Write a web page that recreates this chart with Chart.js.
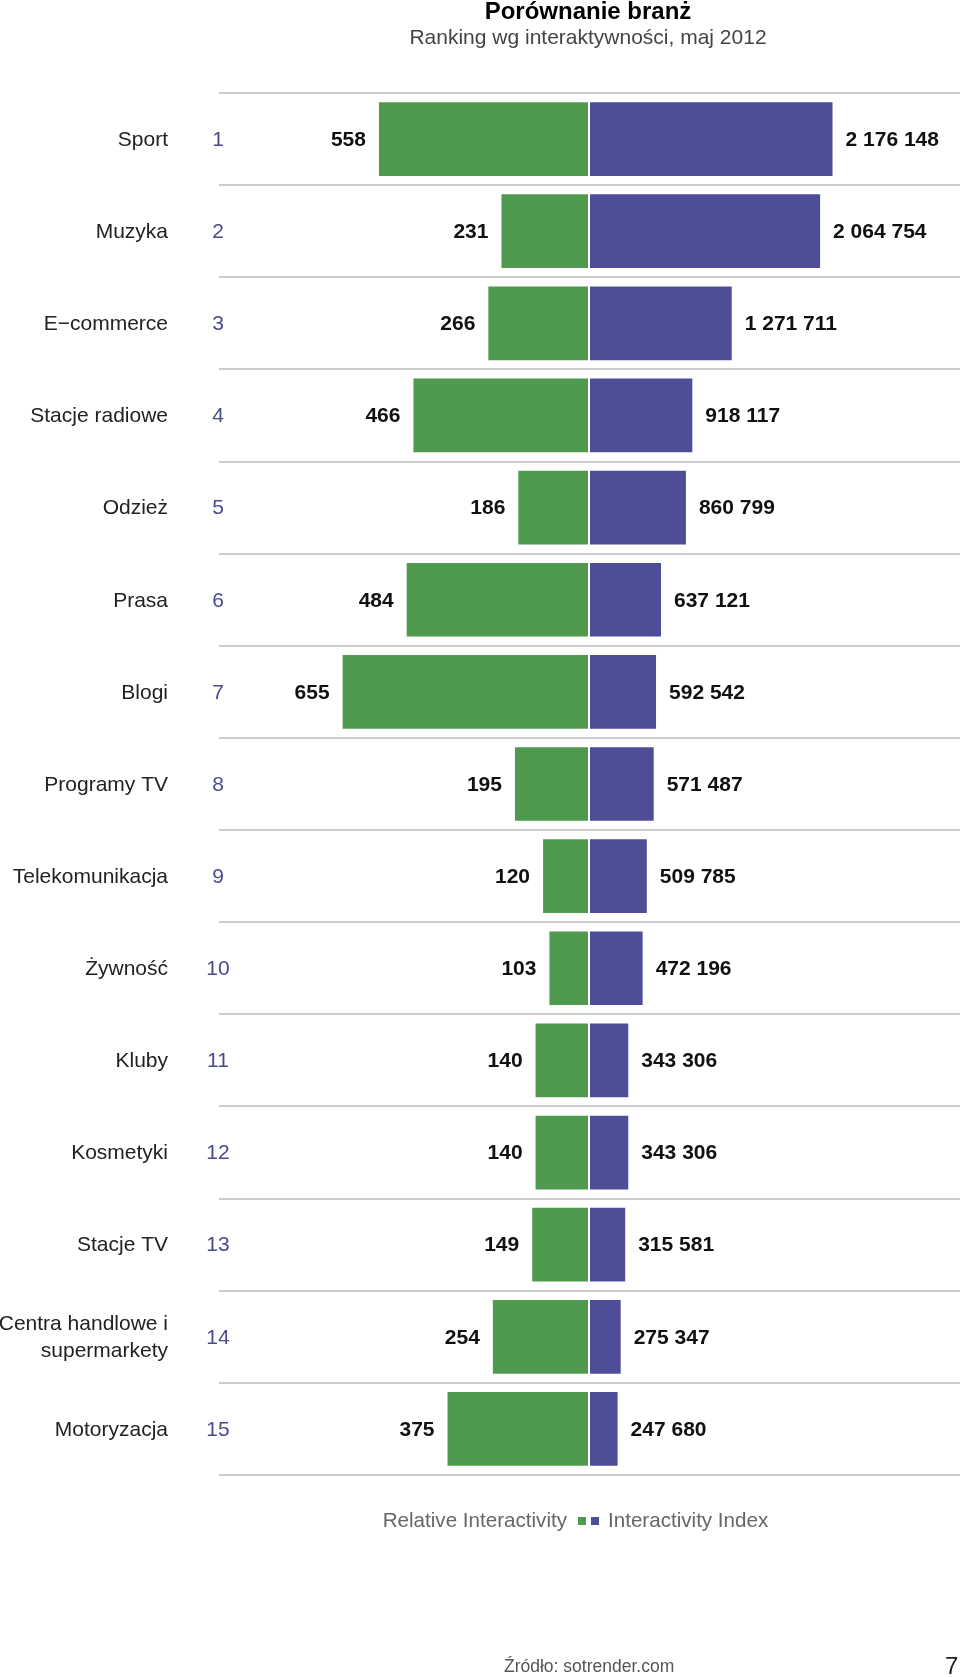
<!DOCTYPE html>
<html>
<head>
<meta charset="utf-8">
<script src="https://cdn.jsdelivr.net/npm/chart.js@4"></script>
<style>
  body { margin: 0; background: #fff; font-family: "Liberation Sans", Arial, sans-serif; }
  #page { position: relative; width: 960px; height: 1677px; overflow: hidden; }
  #chart { position: absolute; left: 0; top: 0; }
  .txt { position: absolute; white-space: nowrap; }
  #title { left: 0; width: 1176px; text-align: center; top: -3px; font-size: 24px; font-weight: bold; color: #000; }
  #subtitle { left: 0; width: 1176px; text-align: center; top: 25px; font-size: 21px; color: #444; }
  .leg { top: 1508px; font-size: 20.6px; color: #666; }
  #leg-left { right: 393px; text-align: right; }
  #leg-right { left: 608px; }
  .sw { position: absolute; top: 1517px; width: 8px; height: 8px; }
  #source { left: 504px; top: 1656px; font-size: 17.5px; color: #555; }
  #page-no { left: 945px; top: 1652px; font-size: 24px; color: #222; }
</style>
</head>
<body>
<div id="page">
  <canvas id="chart" width="960" height="1677"></canvas>
  <div class="txt" id="title">Porównanie branż</div>
  <div class="txt" id="subtitle">Ranking wg interaktywności, maj 2012</div>
  <div class="txt leg" id="leg-left"></div>
  <div class="sw" id="sw-green" style="left:578px"></div>
  <div class="sw" id="sw-blue" style="left:591px"></div>
  <div class="txt leg" id="leg-right"></div>
  <div class="txt" id="source">Źródło: sotrender.com</div>
  <div class="txt" id="page-no">7</div>
</div>
<script>
  // ---------- DATA ----------
  const categories = [
    "Sport", "Muzyka", "E\u2212commerce", "Stacje radiowe", "Odzież", "Prasa", "Blogi",
    "Programy TV", "Telekomunikacja", "Żywność", "Kluby", "Kosmetyki", "Stacje TV",
    ["Centra handlowe i", "supermarkety"], "Motoryzacja"
  ];
  const ranks = ["1", "2", "3", "4", "5", "6", "7", "8", "9", "10", "11", "12", "13", "14", "15"];
  const relativeInteractivity = [558, 231, 266, 466, 186, 484, 655, 195, 120, 103, 140, 140, 149, 254, 375];
  const interactivityIndex = [2176148, 2064754, 1271711, 918117, 860799, 637121, 592542, 571487,
                              509785, 472196, 343306, 343306, 315581, 275347, 247680];
  const seriesNames = ["Relative Interactivity", "Interactivity Index"];
  const GREEN = "#4f9a4e";
  const BLUE = "#4e4e98";
  const FONT = '"Liberation Sans", Arial, sans-serif';

  // legend: text, two swatches, text
  document.getElementById("leg-left").textContent = seriesNames[0];
  document.getElementById("leg-right").textContent = seriesNames[1];
  document.getElementById("sw-green").style.background = GREEN;
  document.getElementById("sw-blue").style.background = BLUE;

  const fmt = v => String(v).replace(/\B(?=(\d{3})+(?!\d))/g, " ");

  // ---------- LABELS PLUGIN ----------
  const valueLabels = {
    id: "valueLabels",
    afterDatasetsDraw(chart) {
      const c = chart.ctx;
      c.save();
      c.font = "bold 21px " + FONT;
      c.fillStyle = "#111";
      c.textBaseline = "middle";
      chart.data.datasets.forEach((ds, di) => {
        chart.getDatasetMeta(di).data.forEach((bar, i) => {
          const txt = fmt(ds.data[i]);
          if (di === 0) {
            c.textAlign = "right";
            c.fillText(txt, bar.x - 13, bar.y + 1);
          } else {
            c.textAlign = "left";
            c.fillText(txt, bar.x + 13, bar.y + 1);
          }
        });
      });
      // rank numbers next to the categories
      const y = chart.scales.y;
      c.font = "21px " + FONT;
      c.fillStyle = "#4a4a8e";
      c.textAlign = "center";
      ranks.forEach((r, i) => c.fillText(r, 218, y.getPixelForValue(i) + 1));
      c.restore();
    }
  };

  // ---------- CHART ----------
  new Chart(document.getElementById("chart"), {
    type: "bar",
    data: {
      labels: categories,
      datasets: [
        { label: seriesNames[0], data: relativeInteractivity, xAxisID: "xl", backgroundColor: GREEN,
          grouped: false, categoryPercentage: 0.8, barPercentage: 1 },
        { label: seriesNames[1], data: interactivityIndex, xAxisID: "xr", backgroundColor: BLUE,
          grouped: false, categoryPercentage: 0.8, barPercentage: 1 }
      ]
    },
    options: {
      indexAxis: "y",
      responsive: false,
      animation: false,
      layout: { padding: { top: 93, bottom: 202, left: 0, right: 0 } },
      plugins: { legend: { display: false }, tooltip: { enabled: false } },
      scales: {
        xl: { type: "linear", position: "bottom", reverse: true, min: -993, max: 985, display: false },
        xr: { type: "linear", position: "bottom", min: -3329000, max: 3320000, display: false },
        y: {
          position: "left",
          border: { display: false },
          grid: { color: "#cccccc", lineWidth: 2, drawTicks: false, offset: true },
          ticks: { autoSkip: false, padding: 51, labelOffset: 1, color: "#222",
                   font: { family: FONT, size: 21, lineHeight: 1.25 } },
          afterFit(scale) { scale.width = 219; }
        }
      }
    },
    plugins: [valueLabels]
  });
</script>
</body>
</html>
